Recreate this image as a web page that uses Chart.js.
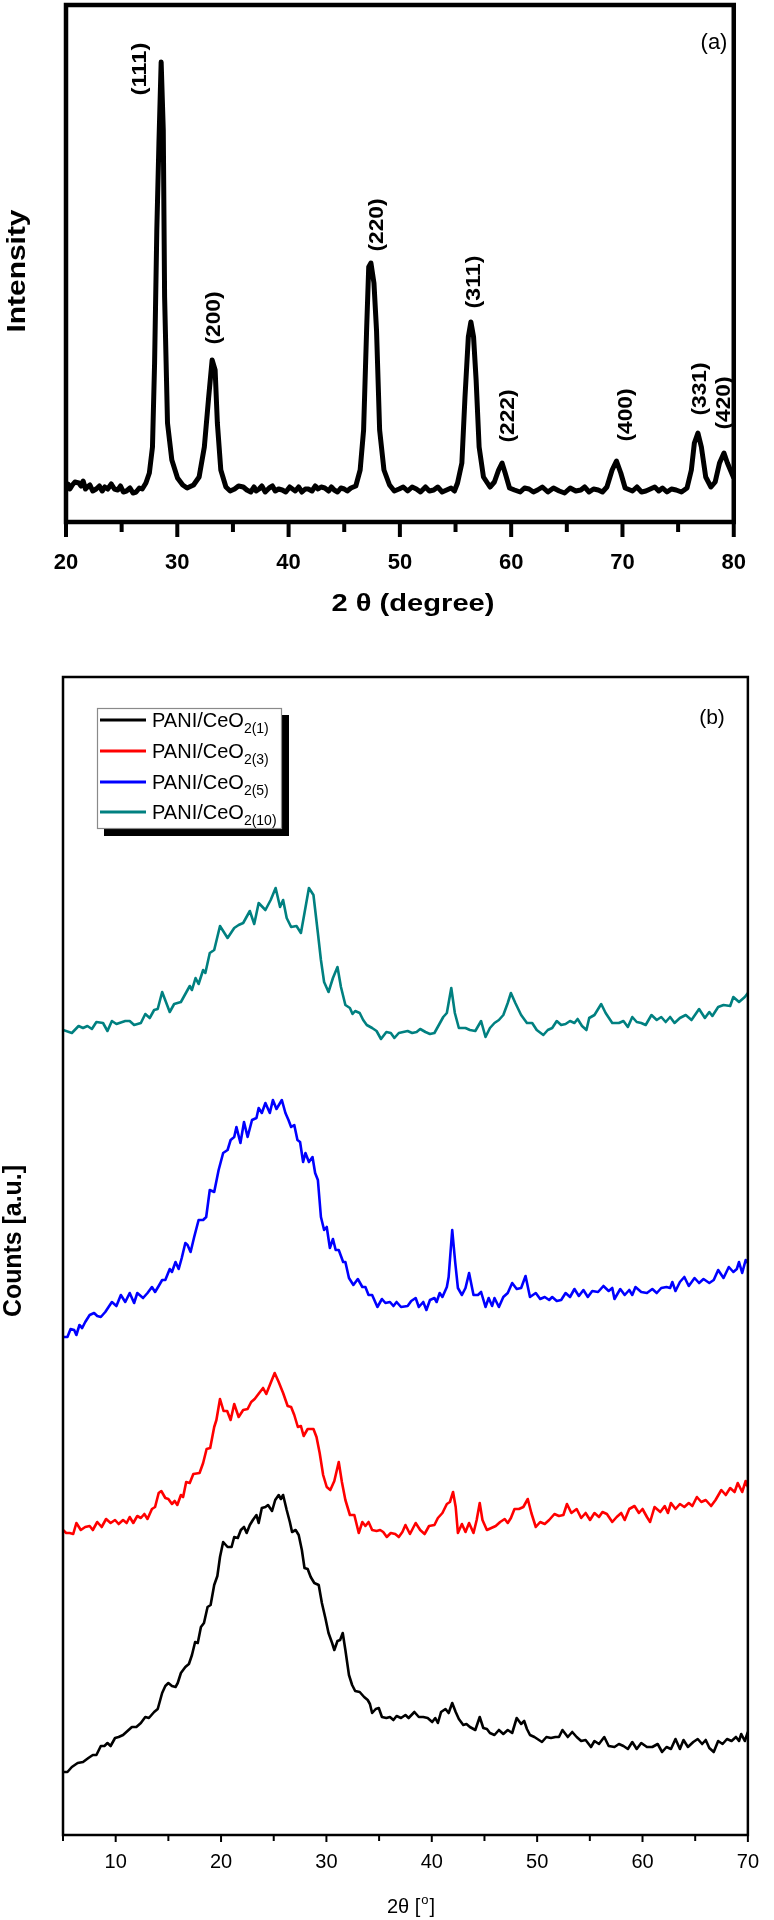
<!DOCTYPE html>
<html><head><meta charset="utf-8">
<script src="https://cdn.jsdelivr.net/npm/chart.js@4.4.0/dist/chart.umd.min.js"></script>
<style>
html,body{margin:0;padding:0;background:#fff;}
body{width:774px;height:1920px;position:relative;overflow:hidden;}
#ca{position:absolute;left:0;top:0;}
#cb{position:absolute;left:0;top:640px;}
</style></head><body>
<canvas id="ca" width="774" height="630"></canvas>
<canvas id="cb" width="774" height="1280"></canvas>
<script>
// ---------- Panel (a): CeO2 XRD ----------
const aX = [20.00,20.18,20.35,20.57,20.80,21.15,21.35,21.54,21.75,21.93,
22.15,22.40,22.71,23.00,23.25,23.49,23.75,24.07,24.35,24.65,
24.90,25.15,25.43,25.75,26.02,26.30,26.59,26.85,27.18,27.49,
27.77,27.96,28.16,28.35,28.55,28.74,28.86,29.12,29.51,30.02,
30.49,30.88,31.46,31.96,32.43,32.82,33.13,33.40,33.60,33.91,
34.37,34.75,35.15,35.50,35.93,36.25,36.60,36.90,37.09,37.35,
37.60,37.90,38.26,38.55,38.80,39.10,39.43,39.75,40.10,40.35,
40.60,40.90,41.20,41.50,41.77,42.10,42.40,42.65,42.93,43.25,
43.60,43.85,44.10,44.40,44.70,45.00,45.27,45.60,46.04,46.43,
46.74,47.01,47.20,47.40,47.67,47.90,48.18,48.57,49.07,49.50,
49.93,50.30,50.70,51.10,51.48,51.85,52.30,52.65,53.04,53.40,
53.80,54.20,54.60,54.90,55.18,55.57,55.85,56.15,56.38,56.62,
56.85,57.12,57.51,58.10,58.49,58.87,59.18,59.46,59.85,60.30,
60.81,61.20,61.60,62.00,62.37,62.80,63.30,63.80,64.32,64.80,
65.30,65.80,66.26,66.60,67.00,67.40,67.82,68.20,68.60,69.07,
69.46,69.85,70.24,70.90,71.30,71.71,72.10,72.50,72.90,73.26,
73.60,74.00,74.40,74.82,75.30,75.80,76.19,76.46,76.78,77.09,
77.48,77.95,78.33,78.72,79.12,79.43,80.00];
const aY = [32,38,33,37,40,39,36,41,33,35,
37,31,33,36,31,35,33,38,33,32,
36,30,31,34,29,30,34,33,39,49,
75,159,292,379,460,392,225,99,62,44,
37,34,37,45,75,125,162,152,99,52,
35,31,33,36,35,32,30,35,31,33,
36,30,34,36,31,33,32,30,35,33,
31,35,30,33,33,31,36,33,35,34,
31,35,32,30,34,33,31,34,36,52,
92,192,255,259,239,192,92,52,37,31,
33,35,31,35,33,30,35,31,32,35,
30,32,34,31,39,59,125,185,200,185,
142,75,45,35,40,52,59,49,34,32,
30,34,33,30,32,35,30,34,31,29,
34,31,32,35,30,33,32,30,35,52,
61,49,34,31,35,30,31,33,35,31,
34,30,33,32,30,34,52,79,89,75,
45,35,40,59,69,59,44];
const aTicks = [20,30,40,50,60,70,80];
const aMinorTicks = [25,35,45,55,65,75];
const aPeakNames = ['(111)','(200)','(220)','(311)','(222)','(400)','(331)','(420)'];
const aPeakLabelX = [26.65,33.30,47.97,56.69,59.80,70.33,76.98,79.14];
const aPeakLabelY = [453,204,297,240,106,107,133,119];

// ---------- Panel (b): PANI/CeO2 composites ----------
const bSeriesNames = ['PANI/CeO','PANI/CeO','PANI/CeO','PANI/CeO'];
const bSeriesSubs = ['2(1)','2(3)','2(5)','2(10)'];
const bColors = ['#000000','#ff0000','#0000ff','#008080'];
const bTicks = [10,20,30,40,50,60,70];
const bMinorTicks = [5,15,25,35,45,55,65];

const blackX = [5.00,5.42,5.84,6.39,6.90,7.41,7.83,8.17,8.59,8.93,
9.22,9.52,9.94,10.28,10.70,11.12,11.54,11.96,12.39,12.81,
13.15,13.65,13.99,14.41,14.71,15.00,15.34,15.68,15.89,16.19,
16.61,16.95,17.24,17.54,17.79,18.09,18.38,18.72,19.01,19.35,
19.65,19.90,20.20,20.62,21.00,21.25,21.59,21.88,22.18,22.43,
22.73,23.02,23.36,23.57,23.87,24.21,24.46,24.84,25.14,25.47,
25.68,25.89,26.23,26.53,26.74,27.08,27.37,27.67,27.92,28.22,
28.51,28.85,29.27,29.57,29.90,30.20,30.54,30.75,31.05,31.30,
31.55,31.80,32.14,32.44,32.73,33.16,33.58,33.92,34.13,34.34,
34.68,34.97,35.27,35.69,36.03,36.36,36.66,37.08,37.50,37.80,
38.35,38.77,39.19,39.61,40.04,40.33,40.58,40.88,41.30,41.60,
41.94,42.27,42.57,42.99,43.29,43.62,44.13,44.55,44.89,45.23,
45.52,45.95,46.37,46.79,47.21,47.63,48.06,48.48,48.77,49.03,
49.32,49.74,50.17,50.46,50.88,51.31,51.73,52.07,52.40,52.91,
53.33,53.75,54.18,54.60,55.11,55.44,55.87,56.37,56.79,57.34,
57.76,58.19,58.61,59.03,59.45,59.88,60.42,60.93,61.44,61.86,
62.28,62.70,63.13,63.55,63.89,64.31,64.82,65.24,65.66,66.00,
66.34,66.76,67.18,67.60,68.02,68.45,68.87,69.16,69.37,69.71,
70.00];
const blackY = [63,63,68,72,73,77,80,80,89,89,
92,89,97,98,100,104,108,108,112,118,
117,123,126,142,149,152,149,148,152,162,
168,171,180,193,192,208,212,228,230,250,
259,278,293,288,288,298,297,305,308,302,
310,315,320,312,327,328,330,324,335,340,
336,340,325,313,303,305,300,285,267,266,
258,252,250,232,217,202,192,185,194,195,
202,185,160,150,144,143,138,135,131,122,
126,127,118,117,118,115,119,117,120,117,
123,118,118,117,113,117,112,123,126,122,
132,123,116,110,111,108,105,118,107,106,
102,100,105,101,105,102,117,111,114,106,
100,98,95,93,98,97,98,98,105,98,
103,98,94,95,88,94,91,98,89,88,
91,89,86,93,86,92,88,88,91,83,
88,86,96,86,95,88,93,96,91,95,
87,83,94,91,96,94,98,94,101,94,
103];

const redX = [5.00,5.30,5.63,5.97,6.27,6.69,7.11,7.53,7.83,8.25,
8.67,9.09,9.52,9.94,10.28,10.70,11.04,11.33,11.67,12.05,
12.39,12.72,13.02,13.44,13.74,14.08,14.33,14.71,15.00,15.34,
15.60,15.85,16.19,16.40,16.69,17.03,17.37,17.96,18.30,18.63,
18.97,19.35,19.56,19.90,20.24,20.58,20.91,21.25,21.67,22.10,
22.52,22.86,23.19,23.62,23.99,24.29,24.63,25.09,25.47,25.89,
26.32,26.65,26.95,27.29,27.58,27.84,28.22,28.77,29.06,29.36,
29.69,30.03,30.37,30.75,31.17,31.47,31.80,32.23,32.65,33.07,
33.41,33.70,34.00,34.34,34.76,35.10,35.39,35.73,36.11,36.53,
36.87,37.21,37.50,37.93,38.47,38.90,39.32,39.74,40.25,40.58,
41.01,41.43,41.72,42.02,42.27,42.48,42.86,43.20,43.54,43.96,
44.26,44.55,44.81,45.23,45.65,46.07,46.49,46.92,47.21,47.51,
47.85,48.27,48.69,49.11,49.45,49.87,50.29,50.72,51.14,51.64,
52.07,52.49,52.83,53.25,53.75,54.18,54.60,55.02,55.44,55.87,
56.20,56.62,57.13,57.55,57.98,58.31,58.74,59.24,59.66,60.00,
60.42,60.72,61.14,61.69,62.11,62.41,62.70,63.13,63.55,63.97,
64.39,64.73,65.16,65.58,66.00,66.51,66.93,67.48,67.90,68.32,
68.74,69.04,69.46,69.79,70.00];
const redY = [305,302,302,301,312,305,308,309,305,313,
308,316,312,315,311,315,312,318,312,319,
317,321,316,326,328,342,344,337,336,331,
334,330,340,338,353,352,361,362,372,386,
387,408,415,436,424,424,415,431,418,425,
426,433,436,442,447,441,450,462,453,442,
429,428,420,408,409,399,406,406,398,382,
360,348,345,354,373,353,335,320,320,302,
313,309,313,305,304,305,303,298,302,301,
298,303,310,301,312,305,301,309,310,317,
322,331,333,343,328,302,311,303,312,302,
315,332,315,305,307,309,313,316,312,317,
326,326,328,336,322,308,313,311,315,321,
319,320,331,322,326,317,322,315,322,318,
323,321,313,318,322,315,326,329,322,326,
318,313,328,323,329,322,332,326,331,328,
332,329,338,333,335,329,335,345,340,347,
343,352,343,354,348];

const blueX = [5.00,5.42,5.72,6.06,6.27,6.56,6.82,7.11,7.53,7.95,
8.25,8.59,9.01,9.64,10.07,10.49,10.91,11.33,11.75,12.05,
12.60,13.02,13.44,13.74,14.08,14.41,14.71,15.13,15.34,15.68,
15.98,16.27,16.61,16.82,17.11,17.45,17.87,18.30,18.59,18.93,
19.35,19.77,20.20,20.62,20.91,21.25,21.46,21.84,22.18,22.52,
22.94,23.36,23.57,23.87,24.21,24.63,24.92,25.26,25.77,26.11,
26.40,26.65,26.95,27.25,27.50,27.79,28.01,28.34,28.68,28.93,
29.19,29.48,29.78,30.03,30.33,30.62,30.88,31.17,31.59,31.80,
32.14,32.56,32.98,33.41,33.70,34.00,34.34,34.84,35.27,35.60,
36.03,36.36,36.66,37.08,37.71,38.05,38.47,38.77,39.19,39.49,
39.83,40.25,40.46,40.75,41.01,41.43,41.60,41.94,42.23,42.48,
42.86,43.20,43.54,43.96,44.38,44.68,45.10,45.40,45.73,45.95,
46.37,46.79,47.21,47.63,48.06,48.48,48.90,49.32,49.87,50.29,
50.72,51.14,51.43,51.86,52.28,52.70,53.12,53.54,53.96,54.39,
54.81,55.23,55.78,56.29,56.79,57.13,57.34,57.89,58.31,58.74,
59.03,59.33,59.88,60.42,60.93,61.35,61.78,62.28,62.62,62.83,
63.13,63.55,63.97,64.39,64.94,65.37,65.79,66.34,66.76,67.18,
67.69,68.19,68.62,68.95,69.16,69.46,69.79,70.00];
const blueY = [498,498,506,505,500,510,507,513,520,522,
519,518,523,533,529,540,533,542,532,542,
537,542,548,543,549,555,555,566,563,573,
566,577,592,590,583,598,615,615,618,645,
643,665,682,685,695,698,708,692,713,698,
715,717,727,722,732,722,735,726,735,722,
715,708,710,695,693,673,682,673,678,662,
655,618,605,608,587,596,585,585,573,573,
557,550,556,548,548,540,540,528,536,532,
533,529,533,528,529,534,537,528,533,525,
535,537,533,542,538,548,558,605,572,547,
540,547,562,540,540,543,528,537,529,537,
528,538,542,552,546,547,559,538,542,536,
538,535,538,534,535,542,538,546,539,545,
538,544,543,549,544,547,536,546,540,545,
540,548,543,542,546,542,547,548,547,553,
544,553,558,549,557,552,556,552,555,565,
557,568,563,566,573,562,575,572];

const tealX = [5.00,5.84,6.48,6.90,7.32,7.74,8.17,8.80,9.22,9.64,
10.07,10.91,11.33,11.75,12.39,12.81,13.23,13.65,13.99,14.41,
15.13,15.55,16.19,17.03,17.24,17.58,17.87,18.30,18.51,18.93,
19.35,19.90,20.62,21.25,21.67,22.10,22.73,23.15,23.57,24.21,
24.71,25.18,25.60,25.89,26.23,26.65,27.16,27.58,27.92,28.34,
28.77,29.19,29.48,29.78,30.20,30.62,31.05,31.38,31.80,32.23,
32.48,32.73,33.16,33.49,33.83,34.34,34.76,35.18,35.69,36.11,
36.45,36.87,37.29,37.71,38.14,38.56,38.90,39.40,39.83,40.25,
40.67,41.09,41.43,41.85,42.19,42.57,43.20,43.62,44.13,44.68,
45.10,45.52,45.95,46.37,46.79,47.21,47.51,47.93,48.48,49.03,
49.53,49.96,50.59,51.01,51.43,51.86,52.28,52.70,53.12,53.54,
53.84,54.26,54.68,54.94,55.44,56.08,56.50,57.13,57.76,58.19,
58.61,59.03,59.45,59.88,60.30,60.85,61.35,61.78,62.20,62.62,
63.04,63.55,64.10,64.65,65.37,65.92,66.34,66.63,67.18,67.69,
68.32,68.62,69.16,69.71,70.00];
const tealY = [805,802,809,807,809,806,813,812,804,814,
811,814,814,810,812,821,817,825,826,843,
823,831,833,849,845,857,851,865,862,882,
885,909,897,907,910,912,924,911,932,925,
935,947,928,935,917,908,909,902,922,947,
940,902,875,853,843,857,868,848,830,827,
821,824,822,815,810,807,804,796,803,802,
797,802,803,804,802,803,806,803,801,802,
810,818,822,847,822,807,807,805,804,814,
798,807,812,815,820,832,842,832,820,812,
812,805,800,805,807,814,810,811,814,812,
816,809,805,817,820,831,822,812,812,814,
808,818,813,812,810,820,815,818,813,818,
812,817,820,815,826,817,823,819,828,830,
829,838,833,838,842];

// ---------- helpers ----------
const FAM = "'Liberation Sans', Arial, Helvetica, sans-serif";
Chart.defaults.font.family = FAM;
function pts(xs, ys){ const n=Math.min(xs.length, ys.length); const o=[]; for(let i=0;i<n;i++) o.push({x:xs[i], y:ys[i]}); return o; }
// text drawn centred at (x,y), stretched/shrunk along its run to a given length
function fitText(ctx, s, x, y, font, len, rotated){
  ctx.save(); ctx.translate(x, y); if (rotated) ctx.rotate(-Math.PI/2);
  ctx.font = font; ctx.fillStyle = '#000'; ctx.textAlign='center'; ctx.textBaseline='middle';
  if ('letterSpacing' in ctx) ctx.letterSpacing = '0px';
  const w = ctx.measureText(s).width;
  if (len && w > 0) ctx.scale(len / w, 1);
  ctx.fillText(s, 0, 0); ctx.restore();
}
function drawTicks(ctx, scale, bottom, vals, len, w){
  ctx.save(); ctx.strokeStyle='#000'; ctx.lineWidth=w; ctx.lineCap='butt';
  vals.forEach(v=>{ const px=scale.getPixelForValue(v); ctx.beginPath(); ctx.moveTo(px,bottom); ctx.lineTo(px,bottom+len); ctx.stroke(); });
  ctx.restore();
}

// ---------- chart (a) ----------
const decoA = {
  id:'decoA',
  afterDraw(chart){
    const ctx=chart.ctx, ca=chart.chartArea, xs=chart.scales.x, ys=chart.scales.y;
    ctx.save(); ctx.strokeStyle='#000'; ctx.lineWidth=4.5;
    ctx.strokeRect(ca.left, ca.top, ca.right-ca.left, ca.bottom-ca.top); ctx.restore();
    drawTicks(ctx, xs, ca.bottom, aTicks, 15, 4);
    drawTicks(ctx, xs, ca.bottom, aMinorTicks, 10, 4);
    aPeakNames.forEach((n,i)=>{
      fitText(ctx, n, xs.getPixelForValue(aPeakLabelX[i]), ys.getPixelForValue(aPeakLabelY[i]), 'bold 20px '+FAM, 53, true);
    });
    fitText(ctx, '(a)', 714, 43, '22px '+FAM, 0, false);
    fitText(ctx, 'Intensity', 18, 271, 'bold 26px '+FAM, 123, true);
    fitText(ctx, '2 θ (degree)', 413, 604, 'bold 24px '+FAM, 163, false);
  }
};
new Chart(document.getElementById('ca'), {
  type:'line',
  data:{datasets:[{label:'CeO2', data:pts(aX,aY), borderColor:'#000', borderWidth:5, pointRadius:0, tension:0, borderJoinStyle:'round', fill:false}]},
  options:{
    responsive:false, animation:false, events:[], devicePixelRatio:1,
    layout:{padding:{left:66, right:13, top:5, bottom:0}},
    plugins:{legend:{display:false}, tooltip:{enabled:false}},
    scales:{
      x:{type:'linear', min:20, max:80,
         afterBuildTicks:s=>{ s.ticks = aTicks.map(v=>({value:v})); },
         ticks:{color:'#000', font:{size:22, weight:'bold'}, padding:28, maxRotation:0, autoSkip:false},
         grid:{display:false, drawTicks:false}, border:{display:false},
         afterFit:s=>{ s.height = 108; }},
      y:{display:false, min:0, max:517}
    }
  },
  plugins:[decoA]
});

// ---------- chart (b) ----------
const decoB = {
  id:'decoB',
  afterDraw(chart){
    const ctx=chart.ctx, ca=chart.chartArea, xs=chart.scales.x;
    ctx.save(); ctx.strokeStyle='#000'; ctx.lineWidth=2.5;
    ctx.strokeRect(ca.left, ca.top, ca.right-ca.left, ca.bottom-ca.top); ctx.restore();
    drawTicks(ctx, xs, ca.bottom, bTicks, 7, 2);
    drawTicks(ctx, xs, ca.bottom, bMinorTicks, 6, 2);
    // legend with shadow
    ctx.save();
    ctx.fillStyle='#000'; ctx.fillRect(104, 75, 185, 121);
    ctx.fillStyle='#fff'; ctx.fillRect(97, 68, 185, 121);
    ctx.strokeStyle='#8a8a8a'; ctx.lineWidth=1.2; ctx.strokeRect(97.5, 68.5, 184, 120);
    const rowY=[80,111,142,172];
    chart.data.datasets.forEach((ds,i)=>{
      const y=rowY[i];
      ctx.strokeStyle=ds.borderColor; ctx.lineWidth=3;
      ctx.beginPath(); ctx.moveTo(100,y); ctx.lineTo(146,y); ctx.stroke();
      ctx.fillStyle='#000'; ctx.textAlign='left'; ctx.textBaseline='alphabetic';
      ctx.font='20px '+FAM; ctx.fillText(bSeriesNames[i], 152, y+7);
      const w=ctx.measureText(bSeriesNames[i]).width;
      ctx.font='14px '+FAM; ctx.fillText(bSeriesSubs[i], 152+w, y+13);
    });
    ctx.restore();
    fitText(ctx, '(b)', 712, 78, '21px '+FAM, 0, false);
    fitText(ctx, 'Counts [a.u.]', 14, 601, 'bold 25px '+FAM, 152, true);
    // x title 2θ [°] with superscript o
    ctx.save(); ctx.fillStyle='#000'; ctx.textBaseline='alphabetic'; ctx.textAlign='left';
    ctx.font='20px '+FAM; const p1='2θ [', p3=']'; const w1=ctx.measureText(p1).width, w3=ctx.measureText(p3).width;
    ctx.font='13px '+FAM; const w2=ctx.measureText('o').width;
    const tot=w1+w2+2+w3; let x0=411-tot/2; const base=1273;
    ctx.font='20px '+FAM; ctx.fillText(p1, x0, base);
    ctx.font='13px '+FAM; ctx.fillText('o', x0+w1+1, base-9);
    ctx.font='20px '+FAM; ctx.fillText(p3, x0+w1+w2+2, base);
    ctx.restore();
  }
};
new Chart(document.getElementById('cb'), {
  type:'line',
  data:{datasets:[
    {label:'PANI/CeO2(1)', data:pts(blackX,blackY), borderColor:bColors[0], borderWidth:2.6, pointRadius:0, tension:0, fill:false, borderJoinStyle:'round'},
    {label:'PANI/CeO2(3)', data:pts(redX,redY), borderColor:bColors[1], borderWidth:2.6, pointRadius:0, tension:0, fill:false, borderJoinStyle:'round'},
    {label:'PANI/CeO2(5)', data:pts(blueX,blueY), borderColor:bColors[2], borderWidth:2.6, pointRadius:0, tension:0, fill:false, borderJoinStyle:'round'},
    {label:'PANI/CeO2(10)', data:pts(tealX,tealY), borderColor:bColors[3], borderWidth:2.6, pointRadius:0, tension:0, fill:false, borderJoinStyle:'round'}
  ]},
  options:{
    responsive:false, animation:false, events:[], devicePixelRatio:1,
    layout:{padding:{left:63, right:15, top:37, bottom:0}},
    plugins:{legend:{display:false}, tooltip:{enabled:false}},
    scales:{
      x:{type:'linear', min:5, max:70,
         afterBuildTicks:s=>{ s.ticks = bTicks.map(v=>({value:v})); },
         ticks:{color:'#000', font:{size:20}, padding:15, maxRotation:0, autoSkip:false},
         grid:{display:false, drawTicks:false}, border:{display:false},
         afterFit:s=>{ s.height = 85; }},
      y:{display:false, min:0, max:1158}
    }
  },
  plugins:[decoB]
});
</script>
</body></html>
